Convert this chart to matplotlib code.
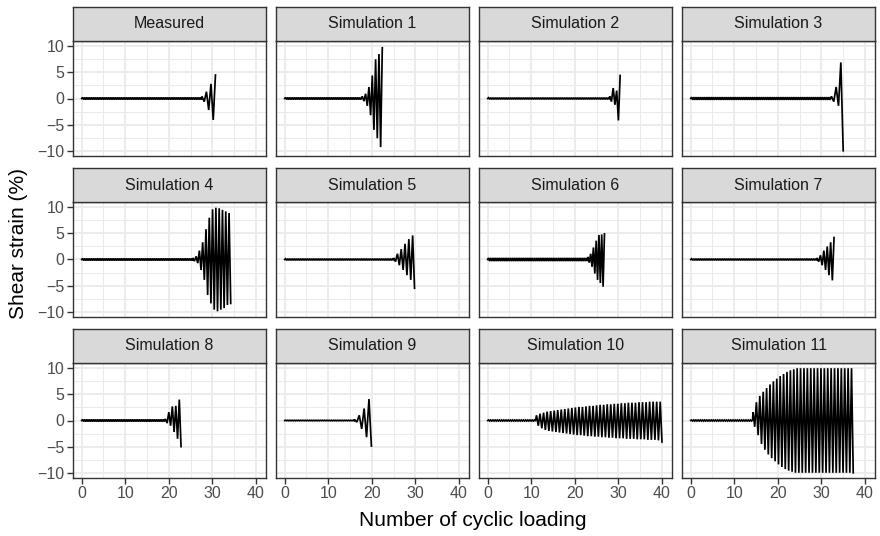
import numpy as np
import matplotlib
matplotlib.use("Agg")
import matplotlib.pyplot as plt

plt.rcParams['font.family'] = ['Liberation Sans', 'DejaVu Sans']

names = ['Measured', 'Simulation 1', 'Simulation 2', 'Simulation 3',
         'Simulation 4', 'Simulation 5', 'Simulation 6', 'Simulation 7',
         'Simulation 8', 'Simulation 9', 'Simulation 10', 'Simulation 11']

# cycle where the growth starts / where the record stops
onset = [27.6, 17.8, 28.0, 32.3, 25.5, 25.0, 23.0, 29.0, 19.2, 16.0, 11.2, 14.3]
stop = [30.7, 22.4, 30.4, 35.0, 34.2, 29.8, 26.8, 32.9, 22.8, 19.9, 40.0, 37.3]
# small ripple amplitude before onset
ripple = [0.2, 0.2, 0.15, 0.25, 0.2, 0.15, 0.3, 0.15, 0.2, 0.05, 0.1, 0.1]

# peak strains (%) after onset, alternating sign
measured = [0.4, -0.6, 1.3, -2.2, 2.8, -4.1, 4.5]
sim1 = [0.4, -0.5, 0.9, -1.4, 2.2, -3.2, 4.4, -6.0, 7.5, -7.6, 8.5, -9.3, 9.7]
sim2 = [0.4, -0.6, 2.0, -1.2, 1.5, -4.2, 4.4]
sim3 = [0.4, -0.6, 2.2, -1.4, 6.9, -10.0]
sim4 = [0.3, -0.3, 0.6, -0.7, 1.7, -2.0, 3.3, -3.9, 5.8, -6.8, 8.0, -8.4,
        9.6, -9.6, 9.9, -9.9, 9.8, -9.6, 9.5, -9.3, 9.2, -8.7, 8.9, -8.4]
sim5 = [0.3, -0.4, 1.1, -1.1, 2.0, -2.0, 3.0, -3.0, 3.9, -3.9, 4.6, -5.5]
sim6 = [0.5, -0.6, 1.1, -1.4, 2.3, -2.7, 3.6, -3.9, 4.7, -4.5, 4.8, -5.2, 4.9]
sim7 = [0.3, -0.4, 0.8, -1.1, 1.7, -2.0, 2.5, -3.0, 3.3, -4.0, 4.2]
sim8 = [0.3, -0.5, 1.6, -1.0, 2.7, -2.2, 2.8, -3.5, 4.0, -5.0]
sim9 = [0.2, -0.3, 1.0, -1.6, 2.3, -3.2, 4.1, -4.9]
sim10 = [1.0, -1.0, 1.3, -1.5, 1.5, -1.8, 1.7, -2.0, 1.8, -2.1, 1.9, -2.2,
         2.0, -2.3, 2.1, -2.4, 2.2, -2.5, 2.3, -2.6, 2.4, -2.7, 2.5, -2.8,
         2.6, -2.8, 2.6, -2.9, 2.7, -3.0, 2.8, -3.0, 2.8, -3.1, 2.9, -3.1,
         3.0, -3.2, 3.0, -3.2, 3.1, -3.3, 3.1, -3.3, 3.2, -3.4, 3.2, -3.4,
         3.3, -3.4, 3.3, -3.5, 3.4, -3.5, 3.4, -3.5, 3.4, -3.6, 3.5, -3.6,
         3.5, -3.6, 3.5, -3.7, 3.6, -3.7, 3.6, -3.7, 3.6, -3.8, 3.6, -4.1]
sim11 = [1.6, -1.2, 3.5, -2.8, 4.7, -4.5, 5.5, -5.6, 6.2, -6.5, 6.9, -7.2,
         7.5, -7.8, 8.0, -8.4, 8.5, -8.9, 8.9, -9.3, 9.3, -9.6, 9.6, -9.8,
         9.8, -10, 10, -10, 10, -10, 10, -10, 10, -10, 10, -10, 10, -10,
         10, -10, 10, -10, 10, -10, 10, -10, 10, -10, 10, -10, 10, -10,
         10, -10, 10, -10, 10, -10, 10, -10]
peaks = [measured, sim1, sim2, sim3, sim4, sim5, sim6, sim7,
         sim8, sim9, sim10, sim11]

W, H = 880, 536
fig = plt.figure(figsize=(W / 100, H / 100), dpi=100)

for i, name in enumerate(names):
    r, c = divmod(i, 4)
    left = 73 + 203 * c
    top = 41 + 161 * r
    ax = fig.add_axes([left / W, 1 - (top + 115) / H, 193 / W, 115 / H])
    st = fig.add_axes([left / W, 1 - top / H, 193 / W, 34 / H])

    # trace: ripple then growing peaks
    tb = np.arange(0.2, onset[i], 0.25)
    yb = ripple[i] * np.where(np.arange(len(tb)) % 2 == 0, 1, -1)
    tp = np.linspace(onset[i], stop[i], len(peaks[i]))
    x = np.concatenate([[0], tb, tp])
    y = np.concatenate([[0], yb, peaks[i]])
    ax.plot(x, y, color='black', lw=1.25, solid_joinstyle='miter')

    ax.set_xlim(-2.0, 42.3)
    ax.set_ylim(-11, 11)
    ax.set_xticks([0, 10, 20, 30, 40])
    ax.set_xticks([5, 15, 25, 35], minor=True)
    ax.set_yticks([-10, -5, 0, 5, 10])
    ax.set_yticks([-7.5, -2.5, 2.5, 7.5], minor=True)
    ax.grid(which='major', color='#EBEBEB', lw=1.3)
    ax.grid(which='minor', color='#EBEBEB', lw=0.7)
    ax.set_axisbelow(True)
    for s in ax.spines.values():
        s.set_color('#333333')
        s.set_linewidth(1.0)
    ax.tick_params(which='minor', length=0)
    ax.tick_params(which='major', length=4, width=1, color='#333333',
                   labelsize=11.5, labelcolor='#4D4D4D', pad=2)
    if c != 0:
        ax.tick_params(axis='y', which='major', length=0, labelleft=False)
    if r != 2:
        ax.tick_params(axis='x', which='major', length=0, labelbottom=False)

    st.set_facecolor('#D9D9D9')
    st.set_xticks([])
    st.set_yticks([])
    for s in st.spines.values():
        s.set_color('#333333')
        s.set_linewidth(1.0)
    st.text(0.5, 0.5, name, ha='center', va='center', fontsize=11.5,
            color='#1A1A1A', transform=st.transAxes)

fig.text(473 / W, 1 - 521 / H, 'Number of cyclic loading', ha='center',
         va='center', fontsize=15)
fig.text(18 / W, 1 - 243 / H, 'Shear strain (%)', ha='center', va='center',
         rotation=90, fontsize=15)

fig.savefig('out.png', dpi=100)
